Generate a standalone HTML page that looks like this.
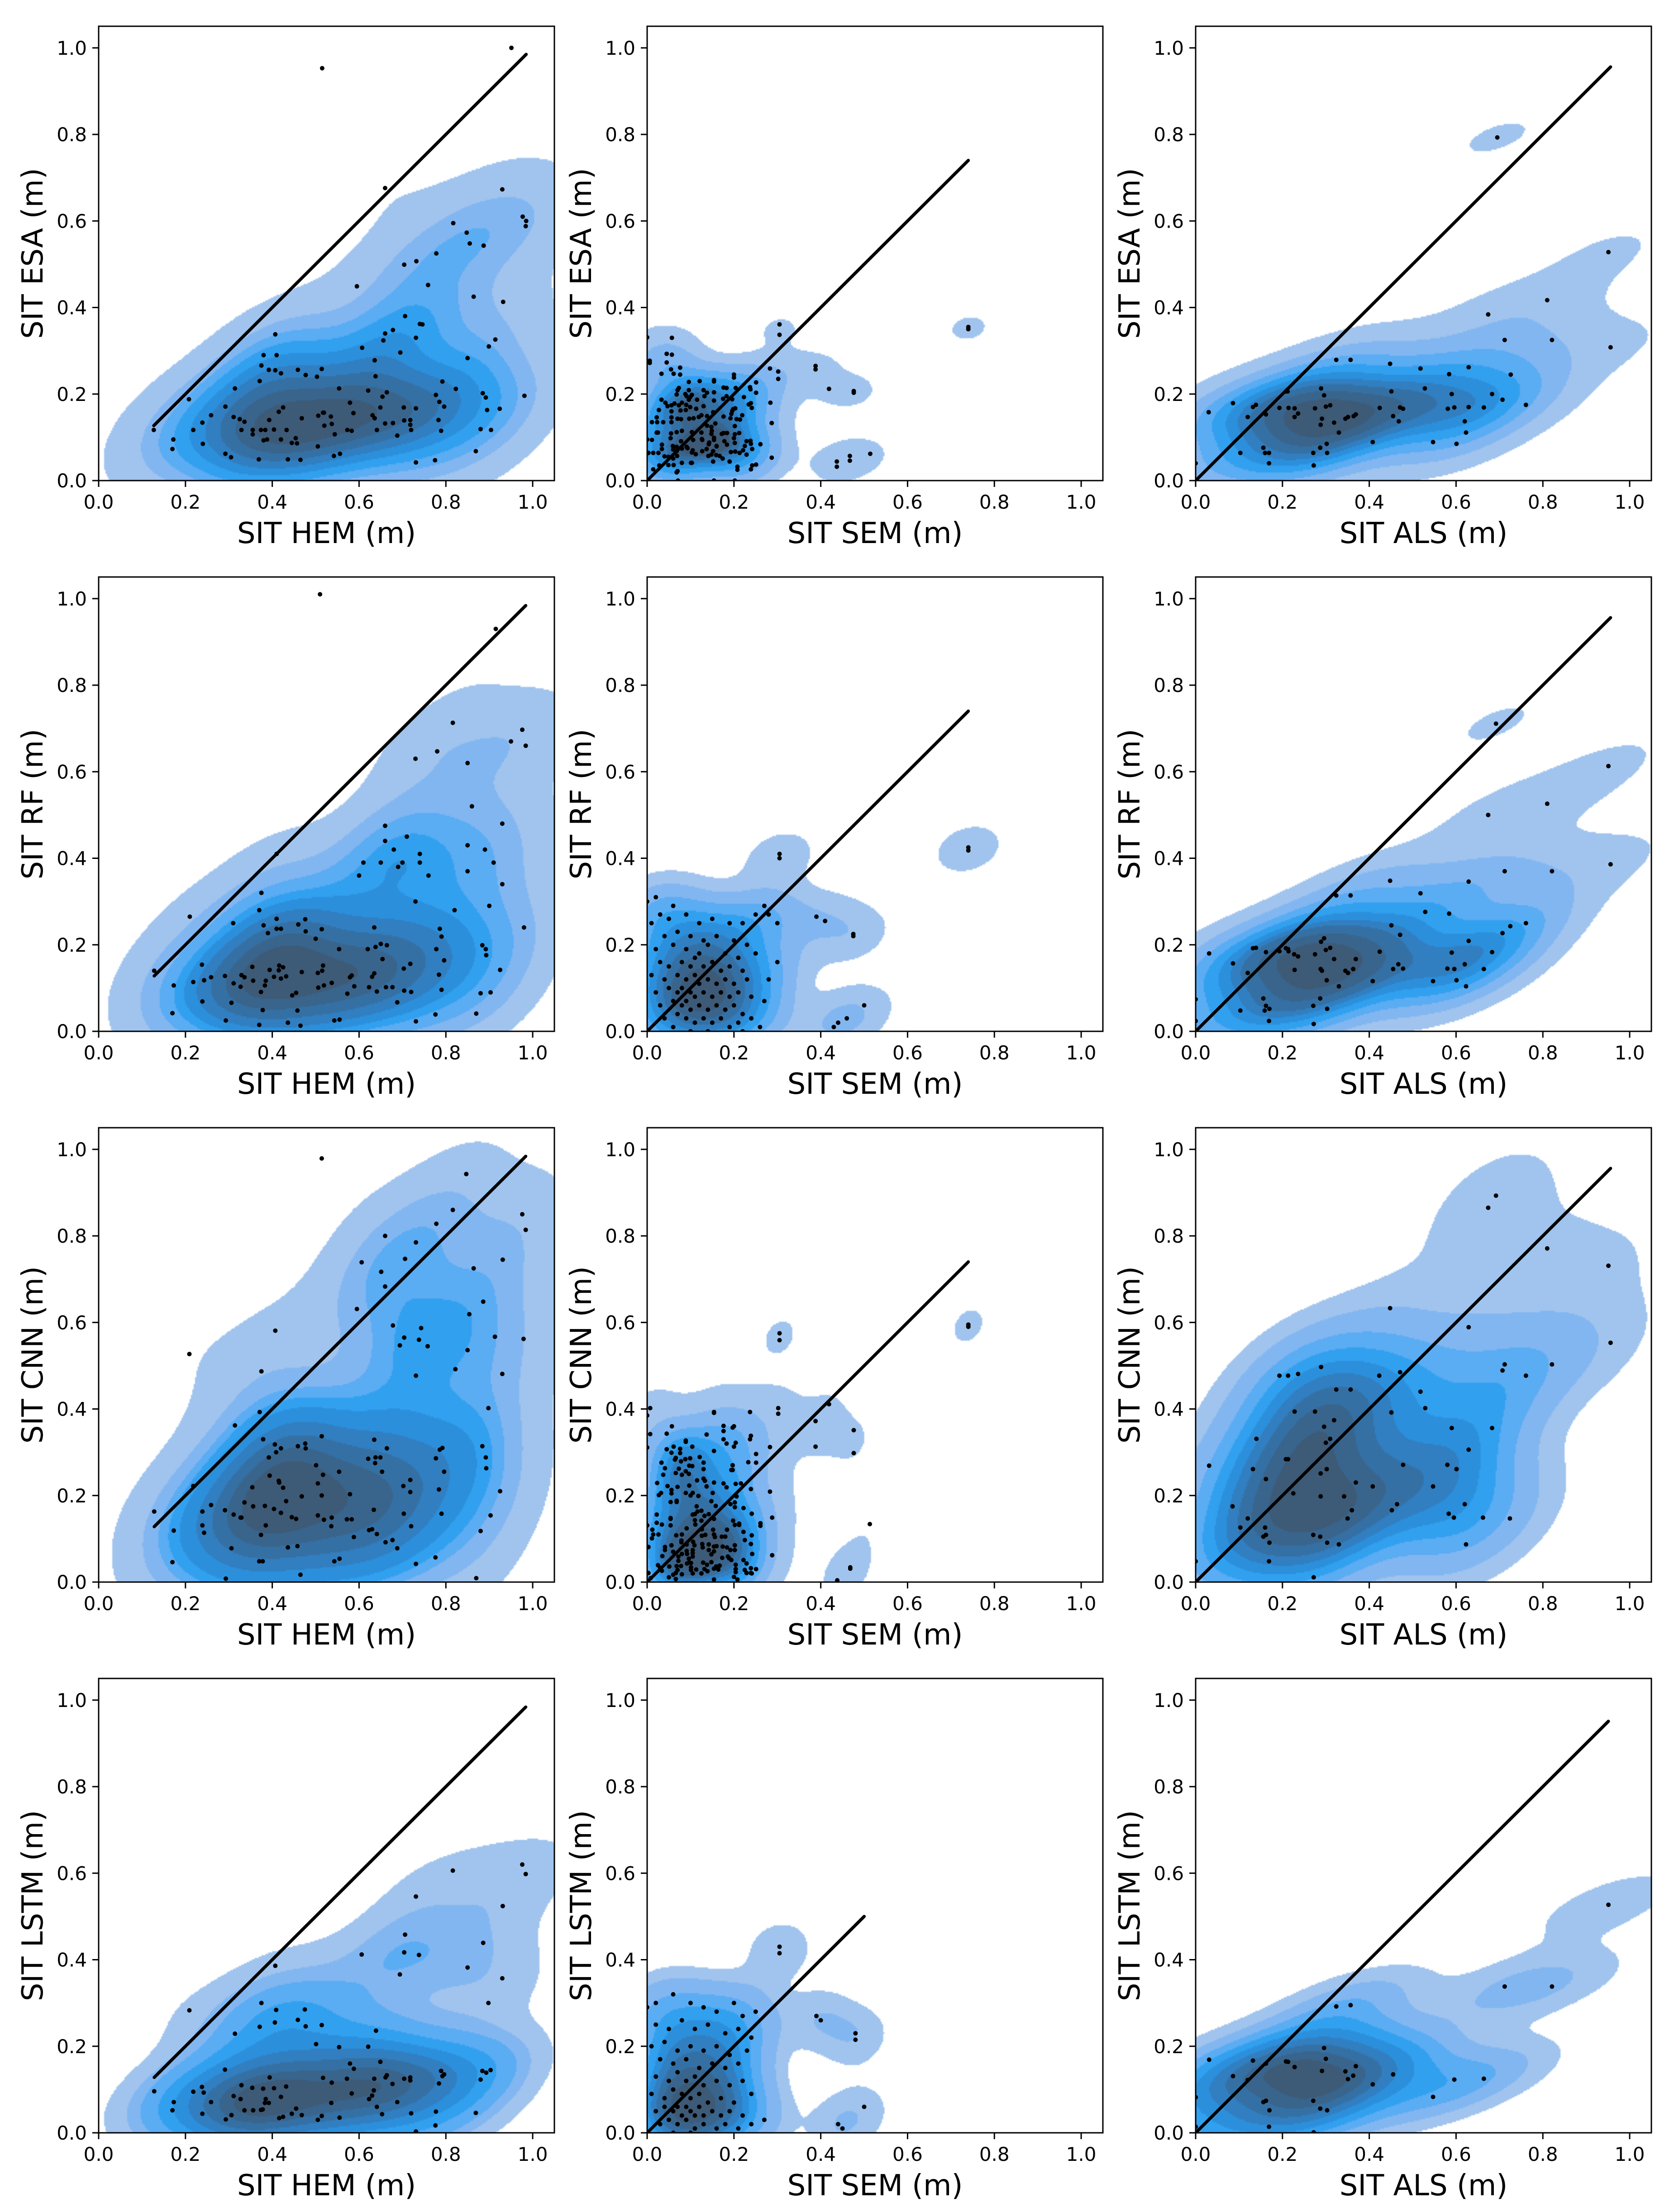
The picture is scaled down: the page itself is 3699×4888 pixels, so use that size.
<!DOCTYPE html>
<html><head><meta charset="utf-8">
<style>
html,body{margin:0;padding:0;background:#fff;}
#fig{position:relative;width:3699px;height:4888px;overflow:hidden;background:#fff;}
canvas.kde{position:absolute;}
svg#ov{position:absolute;left:0;top:0;}
text{font-family:"DejaVu Sans","Liberation Sans",sans-serif;fill:#000;}
</style></head>
<body>
<div id="fig">
<svg id="ov" width="3699" height="4888" xmlns="http://www.w3.org/2000/svg"></svg>
</div>
<script>
// ---------- data ----------
const xTicks=[0.0,0.2,0.4,0.6,0.8,1.0];
const yTicks=[0.0,0.2,0.4,0.6,0.8,1.0];
const tickLabels=["0.0","0.2","0.4","0.6","0.8","1.0"];
const rowLabels=["SIT ESA (m)","SIT RF (m)","SIT CNN (m)","SIT LSTM (m)"];
const colLabels=["SIT HEM (m)","SIT SEM (m)","SIT ALS (m)"];
const bandColors=["#a0c4ee","#82b6f1","#5aacf3","#31a0ef","#2c8fdb","#317ec0","#3570a4","#39648c","#3d5a77"];

const esaHem=[[0.515,0.953],[0.951,1.0],[0.66,0.676],[0.93,0.673],[0.977,0.61],[0.984,0.588],[0.817,0.595],[0.848,0.573],[0.855,0.548],[0.887,0.543],[0.778,0.525],[0.704,0.499],[0.732,0.507],[0.595,0.449],[0.759,0.452],[0.864,0.425],[0.932,0.413],[0.706,0.38],[0.74,0.362],[0.746,0.361],[0.407,0.338],[0.678,0.348],[0.66,0.34],[0.656,0.324],[0.731,0.33],[0.914,0.326],[0.607,0.307],[0.695,0.296],[0.899,0.31],[0.38,0.29],[0.41,0.29],[0.636,0.278],[0.85,0.283],[0.375,0.266],[0.392,0.256],[0.407,0.255],[0.42,0.248],[0.459,0.256],[0.514,0.258],[0.477,0.244],[0.503,0.24],[0.371,0.23],[0.638,0.241],[0.208,0.188],[0.314,0.213],[0.554,0.213],[0.621,0.208],[0.664,0.204],[0.823,0.212],[0.792,0.229],[0.777,0.198],[0.885,0.202],[0.892,0.192],[0.981,0.196],[0.654,0.194],[0.292,0.171],[0.415,0.159],[0.425,0.169],[0.579,0.18],[0.785,0.182],[0.796,0.171],[0.649,0.169],[0.703,0.169],[0.895,0.163],[0.924,0.166],[0.259,0.151],[0.311,0.147],[0.325,0.142],[0.336,0.136],[0.468,0.144],[0.506,0.15],[0.517,0.157],[0.535,0.148],[0.519,0.157],[0.127,0.117],[0.239,0.134],[0.393,0.14],[0.636,0.144],[0.631,0.151],[0.587,0.156],[0.66,0.132],[0.678,0.133],[0.704,0.139],[0.718,0.14],[0.783,0.14],[0.718,0.129],[0.218,0.117],[0.329,0.117],[0.355,0.117],[0.355,0.107],[0.374,0.117],[0.384,0.117],[0.404,0.118],[0.433,0.117],[0.52,0.127],[0.537,0.131],[0.573,0.117],[0.583,0.115],[0.641,0.117],[0.72,0.117],[0.789,0.115],[0.904,0.117],[0.88,0.119],[0.172,0.095],[0.24,0.085],[0.38,0.093],[0.388,0.095],[0.42,0.095],[0.445,0.087],[0.457,0.086],[0.454,0.098],[0.544,0.107],[0.688,0.104],[0.731,0.167],[0.17,0.073],[0.292,0.062],[0.305,0.054],[0.505,0.079],[0.556,0.062],[0.542,0.057],[0.869,0.068],[0.369,0.049],[0.436,0.049],[0.465,0.048],[0.775,0.047],[0.731,0.042],[0.985,0.6]];

const rfHem=[[0.51,1.01],[0.915,0.93],[0.816,0.713],[0.976,0.697],[0.95,0.67],[0.984,0.66],[0.73,0.63],[0.78,0.647],[0.85,0.62],[0.86,0.52],[0.93,0.48],[0.66,0.475],[0.71,0.45],[0.66,0.44],[0.68,0.42],[0.85,0.43],[0.89,0.42],[0.41,0.41],[0.61,0.39],[0.65,0.39],[0.70,0.39],[0.74,0.41],[0.74,0.39],[0.69,0.38],[0.91,0.39],[0.60,0.36],[0.76,0.36],[0.85,0.37],[0.93,0.34],[0.375,0.32],[0.37,0.28],[0.21,0.265],[0.73,0.30],[0.82,0.28],[0.90,0.29],[0.31,0.25],[0.38,0.245],[0.41,0.26],[0.41,0.237],[0.42,0.237],[0.39,0.227],[0.46,0.247],[0.476,0.259],[0.477,0.231],[0.514,0.236],[0.50,0.214],[0.635,0.24],[0.786,0.237],[0.79,0.219],[0.98,0.24],[0.554,0.19],[0.62,0.19],[0.638,0.195],[0.65,0.202],[0.664,0.199],[0.654,0.167],[0.778,0.19],[0.796,0.164],[0.884,0.199],[0.892,0.19],[0.893,0.176],[0.128,0.14],[0.238,0.154],[0.354,0.149],[0.394,0.142],[0.416,0.152],[0.425,0.148],[0.173,0.106],[0.218,0.114],[0.243,0.118],[0.259,0.125],[0.291,0.128],[0.311,0.111],[0.327,0.103],[0.329,0.13],[0.336,0.125],[0.356,0.117],[0.374,0.091],[0.383,0.106],[0.385,0.117],[0.404,0.126],[0.415,0.141],[0.42,0.122],[0.432,0.127],[0.468,0.137],[0.505,0.135],[0.515,0.14],[0.517,0.152],[0.519,0.106],[0.506,0.101],[0.537,0.112],[0.446,0.083],[0.455,0.089],[0.579,0.125],[0.583,0.129],[0.589,0.104],[0.573,0.087],[0.63,0.126],[0.635,0.134],[0.623,0.102],[0.641,0.092],[0.662,0.102],[0.677,0.102],[0.703,0.145],[0.718,0.156],[0.72,0.091],[0.704,0.094],[0.688,0.067],[0.784,0.131],[0.79,0.096],[0.925,0.142],[0.88,0.088],[0.903,0.09],[0.17,0.042],[0.239,0.069],[0.293,0.025],[0.306,0.066],[0.37,0.015],[0.378,0.049],[0.436,0.02],[0.458,0.048],[0.465,0.013],[0.543,0.025],[0.555,0.027],[0.731,0.023],[0.776,0.039],[0.87,0.041]];

const cnnHem=[[0.514,0.979],[0.847,0.943],[0.816,0.86],[0.976,0.85],[0.984,0.814],[0.778,0.828],[0.66,0.80],[0.731,0.785],[0.706,0.747],[0.606,0.739],[0.931,0.745],[0.864,0.725],[0.651,0.717],[0.66,0.683],[0.595,0.631],[0.886,0.648],[0.854,0.619],[0.407,0.581],[0.678,0.593],[0.743,0.587],[0.704,0.565],[0.738,0.56],[0.694,0.547],[0.758,0.545],[0.913,0.567],[0.979,0.562],[0.85,0.536],[0.209,0.527],[0.375,0.487],[0.822,0.492],[0.93,0.481],[0.731,0.477],[0.898,0.402],[0.371,0.393],[0.314,0.362],[0.379,0.33],[0.406,0.318],[0.409,0.3],[0.42,0.309],[0.392,0.288],[0.459,0.314],[0.476,0.32],[0.477,0.309],[0.514,0.337],[0.501,0.27],[0.635,0.329],[0.664,0.309],[0.621,0.285],[0.638,0.288],[0.649,0.288],[0.637,0.275],[0.653,0.255],[0.786,0.306],[0.792,0.31],[0.777,0.286],[0.796,0.255],[0.884,0.314],[0.892,0.288],[0.893,0.263],[0.554,0.255],[0.517,0.248],[0.505,0.228],[0.514,0.2],[0.579,0.203],[0.468,0.198],[0.394,0.246],[0.415,0.234],[0.416,0.23],[0.425,0.218],[0.354,0.219],[0.218,0.222],[0.128,0.163],[0.239,0.163],[0.259,0.178],[0.173,0.119],[0.239,0.131],[0.243,0.114],[0.291,0.166],[0.311,0.156],[0.327,0.149],[0.329,0.149],[0.336,0.184],[0.356,0.175],[0.383,0.176],[0.404,0.169],[0.42,0.16],[0.432,0.187],[0.385,0.131],[0.374,0.109],[0.445,0.15],[0.455,0.146],[0.505,0.154],[0.519,0.144],[0.537,0.149],[0.536,0.129],[0.572,0.145],[0.583,0.145],[0.634,0.167],[0.703,0.158],[0.718,0.236],[0.702,0.222],[0.718,0.208],[0.784,0.214],[0.79,0.158],[0.925,0.21],[0.903,0.154],[0.88,0.118],[0.588,0.104],[0.623,0.12],[0.63,0.122],[0.641,0.111],[0.661,0.092],[0.677,0.097],[0.688,0.078],[0.72,0.129],[0.306,0.078],[0.436,0.08],[0.458,0.083],[0.37,0.048],[0.378,0.048],[0.543,0.048],[0.555,0.054],[0.731,0.042],[0.776,0.057],[0.17,0.046],[0.293,0.008],[0.465,0.017],[0.87,0.009]];

const lstmHem=[[0.976,0.62],[0.984,0.598],[0.816,0.606],[0.731,0.546],[0.931,0.524],[0.706,0.458],[0.886,0.439],[0.704,0.417],[0.738,0.411],[0.606,0.412],[0.407,0.386],[0.85,0.382],[0.694,0.366],[0.93,0.357],[0.375,0.30],[0.898,0.30],[0.209,0.283],[0.409,0.284],[0.475,0.285],[0.459,0.261],[0.406,0.255],[0.371,0.245],[0.477,0.246],[0.514,0.249],[0.314,0.229],[0.639,0.236],[0.501,0.205],[0.554,0.198],[0.621,0.199],[0.649,0.164],[0.579,0.16],[0.588,0.148],[0.291,0.146],[0.394,0.128],[0.517,0.127],[0.572,0.125],[0.635,0.125],[0.661,0.128],[0.664,0.133],[0.704,0.125],[0.718,0.128],[0.718,0.121],[0.789,0.143],[0.796,0.135],[0.792,0.131],[0.884,0.143],[0.893,0.139],[0.903,0.145],[0.88,0.123],[0.537,0.116],[0.677,0.113],[0.784,0.114],[0.329,0.11],[0.354,0.104],[0.379,0.102],[0.404,0.103],[0.432,0.107],[0.238,0.106],[0.218,0.095],[0.242,0.093],[0.128,0.096],[0.634,0.098],[0.583,0.091],[0.63,0.086],[0.623,0.078],[0.311,0.085],[0.327,0.078],[0.42,0.083],[0.385,0.078],[0.383,0.069],[0.392,0.069],[0.259,0.071],[0.173,0.071],[0.536,0.069],[0.688,0.071],[0.641,0.06],[0.455,0.056],[0.17,0.052],[0.336,0.052],[0.356,0.052],[0.374,0.053],[0.378,0.054],[0.445,0.044],[0.468,0.041],[0.425,0.037],[0.416,0.034],[0.306,0.041],[0.293,0.031],[0.239,0.044],[0.514,0.039],[0.505,0.03],[0.555,0.035],[0.653,0.043],[0.72,0.045],[0.777,0.049],[0.869,0.046],[0.776,0.017],[0.731,0.003]];

const esaSem=[[0.305,0.361],[0.305,0.337],[0.74,0.355],[0.74,0.35],[0,0.331],[0.057,0.33],[0.045,0.293],[0.057,0.291],[0.006,0.277],[0.006,0.272],[0.045,0.273],[0.055,0.257],[0.076,0.261],[0.033,0.247],[0.061,0.247],[0.076,0.245],[0.283,0.259],[0.302,0.252],[0.302,0.235],[0.388,0.265],[0.388,0.257],[0.419,0.212],[0.476,0.207],[0.476,0.203],[0.2,0.245],[0.2,0.238],[0.096,0.228],[0.121,0.23],[0.154,0.232],[0.154,0.229],[0.251,0.227],[0.176,0.215],[0.183,0.214],[0.204,0.214],[0.237,0.216],[0.238,0.211],[0.073,0.214],[0.07,0.209],[0.096,0.209],[0.13,0.209],[0.138,0.203],[0.154,0.204],[0.251,0.203],[0.223,0.193],[0.284,0.18],[0.033,0.187],[0.042,0.18],[0.068,0.199],[0.088,0.2],[0.091,0.195],[0.103,0.198],[0.099,0.193],[0.096,0.187],[0.115,0.187],[0.132,0.195],[0.154,0.185],[0.175,0.189],[0.183,0.195],[0.196,0.188],[0.234,0.176],[0.241,0.168],[0.239,0.179],[0.047,0.172],[0.056,0.174],[0.063,0.178],[0.073,0.174],[0.08,0.18],[0.09,0.175],[0.027,0.163],[0.056,0.16],[0.077,0.162],[0.089,0.163],[0.099,0.17],[0.113,0.166],[0.13,0.172],[0.152,0.158],[0.198,0.165],[0.203,0.167],[0.196,0.161],[0.194,0.154],[0.219,0.151],[0.287,0.133],[0.287,0.053],[0.261,0.084],[0.242,0.073],[0.251,0.037],[0.242,0.035],[0.239,0.026],[0.022,0.146],[0.023,0.135],[0.011,0.135],[0.037,0.135],[0.056,0.146],[0.056,0.135],[0.07,0.143],[0.078,0.142],[0.097,0.143],[0.107,0.144],[0.119,0.147],[0.125,0.151],[0.138,0.149],[0.176,0.148],[0.192,0.144],[0.206,0.142],[0.214,0.141],[0.157,0.132],[0.138,0.127],[0.148,0.124],[0.149,0.115],[0.148,0.108],[0.125,0.111],[0.103,0.112],[0.08,0.115],[0.068,0.112],[0.055,0.109],[0.025,0.111],[0.022,0.111],[0.202,0.126],[0.202,0.107],[0.212,0.11],[0.176,0.11],[0.184,0.11],[0.172,0.108],[0,0.095],[0.011,0.094],[0.034,0.083],[0.034,0.073],[0.054,0.098],[0.059,0.08],[0.068,0.078],[0.078,0.091],[0.091,0.078],[0.106,0.094],[0.126,0.096],[0.127,0.094],[0.142,0.084],[0.143,0.088],[0.154,0.099],[0.154,0.094],[0.16,0.08],[0.178,0.091],[0.184,0.083],[0.2,0.098],[0.202,0.087],[0.229,0.091],[0.225,0.08],[0.238,0.092],[0.239,0.085],[0.003,0.064],[0.014,0.064],[0.026,0.064],[0.04,0.056],[0.049,0.055],[0.06,0.072],[0.068,0.068],[0.069,0.057],[0.08,0.074],[0.093,0.075],[0.103,0.065],[0.105,0.07],[0.112,0.061],[0.127,0.068],[0.137,0.073],[0.152,0.068],[0.16,0.079],[0.159,0.059],[0.167,0.057],[0.174,0.051],[0.148,0.06],[0.141,0.057],[0.193,0.066],[0.203,0.067],[0.213,0.064],[0.221,0.07],[0.229,0.06],[0.19,0.044],[0.152,0.044],[0.103,0.041],[0.101,0.041],[0.08,0.041],[0.06,0.051],[0.049,0.036],[0.061,0.036],[0.028,0.035],[0.014,0.026],[0.07,0.022],[0.068,0.019],[0.208,0.032],[0.208,0.025],[0.003,0.002],[0.071,0],[0.154,0],[0.202,0],[0.437,0.044],[0.437,0.032],[0.467,0.057],[0.467,0.046],[0.514,0.062]];

const rfSem=[[0.0,0.30],[0.02,0.31],[0.06,0.29],[0.03,0.27],[0.01,0.25],[0.05,0.26],[0.09,0.27],[0.12,0.25],[0.15,0.26],[0.19,0.25],[0.22,0.25],[0.25,0.27],[0.27,0.29],[0.3,0.25],[0.28,0.27],[0.04,0.22],[0.07,0.23],[0.1,0.22],[0.13,0.21],[0.16,0.22],[0.2,0.21],[0.23,0.2],[0.02,0.19],[0.06,0.2],[0.09,0.19],[0.12,0.18],[0.14,0.2],[0.18,0.18],[0.21,0.17],[0.25,0.18],[0.03,0.16],[0.05,0.15],[0.08,0.16],[0.1,0.15],[0.11,0.17],[0.13,0.15],[0.15,0.16],[0.17,0.14],[0.19,0.15],[0.22,0.14],[0.01,0.13],[0.04,0.12],[0.07,0.13],[0.09,0.12],[0.11,0.13],[0.12,0.11],[0.14,0.12],[0.16,0.11],[0.18,0.12],[0.2,0.11],[0.23,0.12],[0.02,0.09],[0.05,0.1],[0.07,0.09],[0.08,0.1],[0.1,0.09],[0.11,0.08],[0.13,0.09],[0.15,0.08],[0.17,0.09],[0.19,0.08],[0.21,0.09],[0.24,0.08],[0.03,0.06],[0.06,0.07],[0.08,0.06],[0.09,0.07],[0.1,0.05],[0.12,0.06],[0.14,0.05],[0.16,0.06],[0.18,0.05],[0.2,0.06],[0.22,0.04],[0.04,0.03],[0.07,0.04],[0.09,0.03],[0.11,0.02],[0.13,0.03],[0.15,0.02],[0.17,0.03],[0.19,0.01],[0.21,0.02],[0.24,0.03],[0.06,0.01],[0.1,0.0],[0.14,0.0],[0.22,0.0],[0.27,0.07],[0.26,0.01],[0.3,0.16],[0.28,0.12],[0.305,0.40],[0.305,0.41],[0.74,0.418],[0.74,0.425],[0.39,0.265],[0.41,0.255],[0.475,0.225],[0.475,0.22],[0.5,0.06],[0.44,0.02],[0.46,0.03],[0.43,0.01]];

const cnnSem=[[0.305,0.559],[0.305,0.575],[0.74,0.59],[0.74,0.595],[0.007,0.402],[0.154,0.393],[0.154,0.391],[0.237,0.393],[0.302,0.402],[0.302,0.389],[0.419,0.411],[0.388,0.372],[0.476,0.351],[0.388,0.313],[0.476,0.298],[0,0.385],[0.057,0.36],[0.007,0.342],[0.045,0.343],[0.137,0.341],[0.176,0.361],[0.176,0.349],[0.197,0.357],[0.2,0.36],[0.239,0.338],[0.237,0.33],[0.176,0.33],[0.183,0.32],[0.204,0.322],[0.2,0.313],[0.283,0.312],[0.251,0.296],[0.089,0.327],[0.089,0.324],[0.061,0.313],[0.076,0.308],[0.104,0.313],[0.045,0.307],[0.056,0.299],[0.076,0.298],[0,0.311],[0.154,0.303],[0.121,0.289],[0.066,0.287],[0.064,0.283],[0.078,0.279],[0.099,0.286],[0.088,0.284],[0.033,0.276],[0.13,0.276],[0.233,0.277],[0.251,0.276],[0.041,0.263],[0.073,0.262],[0.097,0.269],[0.104,0.268],[0.13,0.261],[0.089,0.256],[0.096,0.25],[0.066,0.252],[0.08,0.248],[0.037,0.248],[0.197,0.27],[0.194,0.259],[0.197,0.259],[0.023,0.229],[0.047,0.222],[0.07,0.22],[0.097,0.223],[0.115,0.235],[0.13,0.239],[0.133,0.234],[0.154,0.23],[0.137,0.221],[0.176,0.228],[0.183,0.219],[0.204,0.227],[0.216,0.228],[0.239,0.215],[0.283,0.209],[0.056,0.213],[0.056,0.205],[0.027,0.201],[0.032,0.206],[0.089,0.206],[0.105,0.206],[0.1,0.2],[0.118,0.199],[0.151,0.206],[0.054,0.185],[0.068,0.185],[0.068,0.188],[0.148,0.187],[0.206,0.198],[0.202,0.184],[0.192,0.18],[0.158,0.176],[0.114,0.175],[0.125,0.165],[0.202,0.173],[0.222,0.171],[0.241,0.158],[0.288,0.149],[0.022,0.156],[0.054,0.148],[0.054,0.146],[0.022,0.137],[0.034,0.133],[0.054,0.131],[0.105,0.156],[0.11,0.157],[0.116,0.163],[0.132,0.153],[0.142,0.157],[0.154,0.146],[0.11,0.143],[0.111,0.133],[0.125,0.142],[0.198,0.142],[0.202,0.132],[0.212,0.135],[0.212,0.132],[0.261,0.136],[0.261,0.13],[0.513,0.134],[0,0.131],[0.012,0.121],[0.014,0.11],[0.026,0.11],[0.011,0.101],[0.091,0.124],[0.08,0.11],[0.067,0.108],[0.126,0.122],[0.126,0.107],[0.134,0.109],[0.152,0.121],[0.154,0.11],[0.156,0.104],[0.172,0.105],[0.18,0.105],[0.184,0.121],[0.222,0.116],[0.241,0.108],[0.225,0.097],[0.239,0.088],[0.242,0.065],[0.288,0.062],[0.003,0.081],[0.041,0.081],[0.041,0.074],[0.056,0.085],[0.06,0.07],[0.079,0.096],[0.079,0.092],[0.091,0.087],[0.106,0.093],[0.109,0.085],[0.105,0.074],[0.105,0.067],[0.105,0.059],[0.091,0.072],[0.092,0.065],[0.08,0.065],[0.072,0.059],[0.035,0.06],[0.072,0.049],[0.096,0.054],[0.097,0.045],[0.092,0.043],[0.101,0.044],[0.127,0.088],[0.128,0.08],[0.142,0.087],[0.142,0.074],[0.154,0.082],[0.148,0.064],[0.16,0.083],[0.154,0.071],[0.174,0.082],[0.184,0.08],[0.192,0.074],[0.202,0.085],[0.202,0.074],[0.173,0.056],[0.186,0.059],[0.189,0.055],[0.194,0.051],[0.129,0.045],[0.138,0.04],[0.148,0.046],[0.222,0.051],[0.229,0.043],[0.025,0.039],[0.034,0.026],[0.03,0.033],[0.051,0.036],[0.068,0.037],[0.078,0.037],[0.07,0.028],[0.06,0.017],[0.066,0.021],[0.08,0.018],[0.101,0.034],[0.113,0.029],[0.101,0.028],[0.105,0.02],[0.125,0.02],[0.132,0.03],[0.139,0.025],[0.154,0.031],[0.159,0.036],[0.164,0.029],[0.167,0.038],[0.204,0.04],[0.204,0.03],[0.204,0.023],[0.2,0.012],[0.208,0.006],[0.225,0.028],[0.229,0.021],[0.239,0.021],[0.239,0.032],[0.251,0.03],[0.241,0.02],[0.003,0.021],[0.008,0.009],[0.05,0.011],[0.066,0.007],[0.154,0.006],[0.468,0.034],[0.468,0.031],[0.438,0.004]];

const lstmSem=[[0.0,0.29],[0.02,0.3],[0.06,0.32],[0.1,0.3],[0.13,0.29],[0.16,0.28],[0.2,0.3],[0.22,0.27],[0.25,0.28],[0.02,0.25],[0.05,0.24],[0.08,0.26],[0.11,0.24],[0.14,0.25],[0.18,0.23],[0.21,0.24],[0.24,0.22],[0.01,0.2],[0.04,0.21],[0.07,0.19],[0.1,0.2],[0.13,0.19],[0.16,0.2],[0.19,0.18],[0.23,0.19],[0.03,0.17],[0.06,0.16],[0.09,0.17],[0.12,0.15],[0.15,0.16],[0.18,0.15],[0.21,0.16],[0.02,0.13],[0.05,0.12],[0.07,0.14],[0.09,0.12],[0.11,0.13],[0.13,0.11],[0.16,0.12],[0.19,0.11],[0.22,0.12],[0.01,0.09],[0.04,0.08],[0.06,0.1],[0.08,0.09],[0.1,0.08],[0.12,0.09],[0.14,0.07],[0.17,0.08],[0.2,0.07],[0.24,0.09],[0.02,0.05],[0.04,0.06],[0.06,0.05],[0.07,0.06],[0.08,0.04],[0.09,0.06],[0.1,0.05],[0.11,0.04],[0.12,0.06],[0.13,0.04],[0.15,0.05],[0.17,0.04],[0.19,0.05],[0.22,0.04],[0.03,0.02],[0.05,0.03],[0.07,0.02],[0.09,0.03],[0.11,0.01],[0.13,0.02],[0.16,0.01],[0.18,0.02],[0.21,0.01],[0.24,0.02],[0.27,0.03],[0.06,0.0],[0.1,0.0],[0.305,0.415],[0.305,0.43],[0.39,0.27],[0.4,0.26],[0.48,0.23],[0.48,0.215],[0.5,0.06],[0.44,0.02],[0.45,0.01]];

const esaAls=[[0.951,0.528],[0.81,0.417],[0.674,0.384],[0.712,0.325],[0.821,0.325],[0.956,0.308],[0.695,0.793],[0.324,0.279],[0.357,0.279],[0.448,0.27],[0.518,0.259],[0.629,0.262],[0.584,0.246],[0.726,0.245],[0.289,0.213],[0.528,0.213],[0.451,0.206],[0.208,0.206],[0.212,0.206],[0.296,0.197],[0.59,0.2],[0.683,0.2],[0.707,0.187],[0.761,0.175],[0.086,0.179],[0.139,0.175],[0.132,0.17],[0.03,0.158],[0.193,0.168],[0.214,0.168],[0.228,0.167],[0.275,0.167],[0.3,0.171],[0.31,0.174],[0.424,0.168],[0.471,0.169],[0.478,0.166],[0.581,0.166],[0.596,0.169],[0.629,0.17],[0.664,0.169],[0.162,0.153],[0.236,0.155],[0.12,0.147],[0.228,0.147],[0.291,0.143],[0.345,0.143],[0.351,0.147],[0.364,0.149],[0.369,0.153],[0.455,0.149],[0.468,0.137],[0.62,0.137],[0.288,0.129],[0.319,0.134],[0.33,0.111],[0.623,0.111],[0.408,0.089],[0.547,0.089],[0.601,0.085],[0.302,0.085],[0.287,0.076],[0.156,0.076],[0.103,0.064],[0.16,0.064],[0.169,0.064],[0.271,0.064],[0.303,0.064],[0.169,0.04],[0.272,0.035],[0,0.04]];

const rfAls=[[0.692,0.711],[0.951,0.613],[0.81,0.526],[0.674,0.5],[0.956,0.386],[0.712,0.37],[0.821,0.37],[0.448,0.348],[0.629,0.346],[0.324,0.314],[0.357,0.314],[0.518,0.319],[0.529,0.276],[0.584,0.272],[0.761,0.25],[0.725,0.243],[0.451,0.245],[0.707,0.227],[0.471,0.223],[0.629,0.209],[0.296,0.215],[0.289,0.207],[0.31,0.193],[0.3,0.188],[0.132,0.192],[0.139,0.193],[0.208,0.192],[0.213,0.19],[0.214,0.185],[0.162,0.183],[0.193,0.185],[0.031,0.18],[0.227,0.178],[0.236,0.173],[0.275,0.178],[0.319,0.167],[0.369,0.167],[0.424,0.184],[0.59,0.182],[0.683,0.183],[0.086,0.157],[0.467,0.155],[0.62,0.155],[0.12,0.135],[0.228,0.142],[0.288,0.144],[0.291,0.14],[0.345,0.14],[0.351,0.135],[0.363,0.144],[0.455,0.144],[0.478,0.145],[0.58,0.145],[0.596,0.144],[0.664,0.144],[0.302,0.118],[0.408,0.116],[0.547,0.116],[0.601,0.118],[0.33,0.104],[0.623,0.104],[0.156,0.076],[0.287,0.076],[0.162,0.059],[0.103,0.048],[0.159,0.048],[0.17,0.052],[0.271,0.059],[0.303,0.052],[0.0,0.074],[0.169,0.024],[0.0,0.024],[0.272,0.017]];

const cnnAls=[[0.692,0.893],[0.674,0.865],[0.81,0.771],[0.951,0.731],[0.448,0.633],[0.629,0.589],[0.956,0.553],[0.289,0.497],[0.193,0.477],[0.213,0.477],[0.236,0.481],[0.423,0.477],[0.471,0.485],[0.712,0.503],[0.707,0.489],[0.761,0.477],[0.821,0.503],[0.324,0.445],[0.357,0.445],[0.518,0.44],[0.529,0.402],[0.228,0.394],[0.275,0.394],[0.451,0.392],[0.319,0.374],[0.296,0.359],[0.59,0.356],[0.683,0.356],[0.14,0.331],[0.31,0.331],[0.3,0.322],[0.629,0.306],[0.031,0.269],[0.208,0.284],[0.213,0.284],[0.478,0.271],[0.58,0.271],[0.601,0.261],[0.132,0.261],[0.302,0.261],[0.288,0.251],[0.162,0.238],[0.369,0.23],[0.408,0.221],[0.547,0.221],[0.225,0.205],[0.288,0.198],[0.342,0.198],[0.085,0.175],[0.464,0.18],[0.452,0.166],[0.36,0.166],[0.62,0.18],[0.583,0.158],[0.595,0.149],[0.662,0.149],[0.724,0.147],[0.12,0.147],[0.35,0.147],[0.16,0.126],[0.103,0.126],[0.162,0.109],[0.156,0.105],[0.271,0.109],[0.287,0.105],[0.17,0.091],[0.303,0.091],[0.33,0.087],[0.623,0.087],[0,0.048],[0.169,0.048],[0.272,0.011]];

const lstmAls=[[0.951,0.527],[0.712,0.338],[0.821,0.338],[0.324,0.292],[0.357,0.295],[0.296,0.196],[0.3,0.171],[0.031,0.169],[0.132,0.167],[0.162,0.16],[0.208,0.165],[0.213,0.164],[0.228,0.152],[0.369,0.154],[0.291,0.143],[0.345,0.142],[0.363,0.132],[0.351,0.124],[0.455,0.135],[0.086,0.131],[0.408,0.112],[0.596,0.123],[0.664,0.125],[0.547,0.083],[0.271,0.074],[0.156,0.071],[0.162,0.074],[0.287,0.056],[0.303,0.052],[0.17,0.052],[0,0.082],[0.169,0.014],[0,0.014],[0.272,0.001],[0.12,0.122]];

const panelData=[[esaHem,esaSem,esaAls],[rfHem,rfSem,rfAls],[cnnHem,cnnSem,cnnAls],[lstmHem,lstmSem,lstmAls]];
const panelKeys=[["esa-hem","esa-sem","esa-als"],["rf-hem","rf-sem","rf-als"],["cnn-hem","cnn-sem","cnn-als"],["lstm-hem","lstm-sem","lstm-als"]];

// ---------- layout ----------
const AX0=218, AY0=58, DX=1212, DY=1217, AW=1007, AH=1004, XMAX=1.05, YMAX=1.05;
const NS="http://www.w3.org/2000/svg";
const fig=document.getElementById('fig');
const svg=document.getElementById('ov');
function el(tag,attrs,parent){const e=document.createElementNS(NS,tag);for(const k in attrs)e.setAttribute(k,attrs[k]);(parent||svg).appendChild(e);return e;}

function kdeSetup(pts){
  const n=pts.length;let mx=0,my=0;
  for(const p of pts){mx+=p[0];my+=p[1];}mx/=n;my/=n;
  let sxx=0,syy=0,sxy=0;
  for(const p of pts){const dx=p[0]-mx,dy=p[1]-my;sxx+=dx*dx;syy+=dy*dy;sxy+=dx*dy;}
  sxx/=(n-1);syy/=(n-1);sxy/=(n-1);
  const f=Math.pow(n,-1/6),f2=f*f;
  const a=sxx*f2,c=syy*f2,b=sxy*f2,det=a*c-b*b;
  const ia=c/det,ib=-b/det,ic=a/det;
  const xs=new Float64Array(n),ys=new Float64Array(n);
  pts.forEach((p,i)=>{xs[i]=p[0];ys[i]=p[1];});
  function dens(x,y){let s=0;for(let i=0;i<n;i++){const dx=x-xs[i],dy=y-ys[i];const q=ia*dx*dx+2*ib*dx*dy+ic*dy*dy;if(q<40)s+=Math.exp(-0.5*q);}return s;}
  return {dens,bwx:Math.sqrt(a),bwy:Math.sqrt(c),xs,ys};
}

function drawPanel(r,c){
  const pts=panelData[r][c];
  const left=AX0+c*DX, top=AY0+r*DY;
  const sx=v=>left+v/XMAX*AW, sy=v=>top+AH-v/YMAX*AH;
  const K=kdeSetup(pts);
  let xmin=Infinity,xmax=-Infinity,ymin=Infinity,ymax=-Infinity;
  for(const p of pts){xmin=Math.min(xmin,p[0]);xmax=Math.max(xmax,p[0]);ymin=Math.min(ymin,p[1]);ymax=Math.max(ymax,p[1]);}
  const G=160;const vals=new Float64Array(G*G);let tot=0;
  const gx0=xmin-3*K.bwx,gx1=xmax+3*K.bwx,gy0=ymin-3*K.bwy,gy1=ymax+3*K.bwy;
  for(let i=0;i<G;i++)for(let j=0;j<G;j++){const v=K.dens(gx0+(gx1-gx0)*i/(G-1),gy0+(gy1-gy0)*j/(G-1));vals[i*G+j]=v;tot+=v;}
  const sorted=Array.from(vals).sort((a,b)=>b-a);
  const levels=[];
  for(let k=0;k<10;k++){const p=0.05+(1-0.05)*k/9;const target=1-p;let cum=0,idx=0;
    for(idx=0;idx<sorted.length;idx++){cum+=sorted[idx];if(cum/tot>=target)break;}
    levels.push(sorted[Math.min(idx,sorted.length-1)]);}
  levels.sort((a,b)=>a-b);
  const CW=336,CH=335;
  const cv=document.createElement('canvas');cv.width=CW;cv.height=CH;cv.className='kde';
  cv.style.left=left+'px';cv.style.top=top+'px';cv.style.width=AW+'px';cv.style.height=AH+'px';
  
  
  fig.insertBefore(cv,svg);
  const ctx=cv.getContext('2d');const img=ctx.createImageData(CW,CH);
  const rgb=bandColors.map(h=>[parseInt(h.substr(1,2),16),parseInt(h.substr(3,2),16),parseInt(h.substr(5,2),16)]);
  for(let py=0;py<CH;py++){const y=YMAX*(1-(py+0.5)/CH);
    for(let px=0;px<CW;px++){const x=XMAX*(px+0.5)/CW;const d=K.dens(x,y);
      let band=-1;for(let k=0;k<9;k++){if(d>=levels[k])band=k;}
      const o=(py*CW+px)*4;
      if(band>=0){img.data[o]=rgb[band][0];img.data[o+1]=rgb[band][1];img.data[o+2]=rgb[band][2];img.data[o+3]=255;}
      else{img.data[o+3]=0;}
    }}
  ctx.putImageData(img,0,0);

  const g=el('g',{});
  
  
  const cid='clip'+r+c;
  const cp=el('clipPath',{id:cid},g);el('rect',{x:left,y:top,width:AW,height:AH},cp);
  const inner=el('g',{'clip-path':'url(#'+cid+')'},g);
  const ln=el('line',{x1:sx(xmin),y1:sy(xmin),x2:sx(xmax),y2:sy(xmax),stroke:'#000','stroke-width':7,'stroke-linecap':'round'},inner);
  
  
  const pg=el('g',{},inner);
  
  
  for(const p of pts){const ci=el('circle',{cx:sx(p[0]),cy:sy(p[1]),r:5,fill:'#000'},pg);
    
    }
  const fr=el('rect',{x:left,y:top,width:AW,height:AH,fill:'none',stroke:'#000','stroke-width':3},g);
  
  
  xTicks.forEach((t,i)=>{const X=sx(t);
    const tk=el('line',{x1:X,y1:top+AH,x2:X,y2:top+AH+14,stroke:'#000','stroke-width':3},g);
    
    
    const tx=el('text',{x:X,y:top+AH+62,'text-anchor':'middle','font-size':42},g);tx.textContent=tickLabels[i];
    
    });
  yTicks.forEach((t,i)=>{const Y=sy(t);
    const tk=el('line',{x1:left-14,y1:Y,x2:left,y2:Y,stroke:'#000','stroke-width':3},g);
    
    
    const tx=el('text',{x:left-26,y:Y+15,'text-anchor':'end','font-size':42},g);tx.textContent=tickLabels[i];
    
    });
  const xl=el('text',{x:left+AW/2,y:top+AH+138,'text-anchor':'middle','font-size':64},g);xl.textContent=colLabels[c];
  
  
  const yx=left-124, yy=top+AH/2;
  const yl=el('text',{x:yx,y:yy,'text-anchor':'middle','font-size':64,transform:'rotate(-90 '+yx+' '+yy+')'},g);yl.textContent=rowLabels[r];
  
  
}
for(let r=0;r<4;r++)for(let c=0;c<3;c++)drawPanel(r,c);
</script>
</body></html>
